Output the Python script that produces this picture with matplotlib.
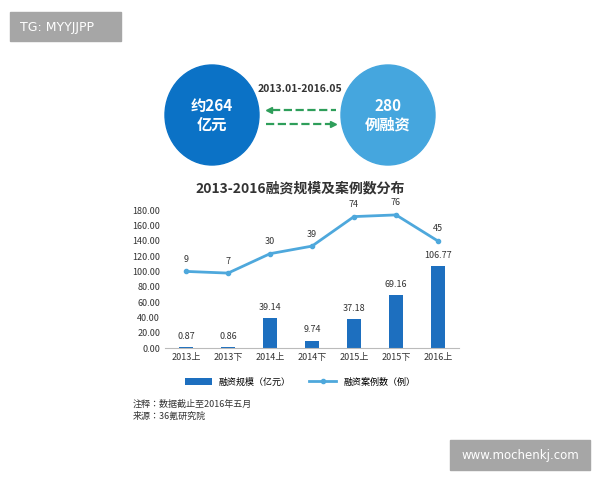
import matplotlib.pyplot as plt
from matplotlib import font_manager
from matplotlib.patches import Ellipse, Rectangle

names = sorted({f.name for f in font_manager.fontManager.ttflist if 'CJK' in f.name})
print(names)
cjk = names[0] if names else 'DejaVu Sans'
plt.rcParams['font.family'] = 'sans-serif'
plt.rcParams['font.sans-serif'] = [cjk, 'DejaVu Sans']

periods = ['2013上', '2013下', '2014上', '2014下', '2015上', '2015下', '2016上']
amounts = [0.87, 0.86, 39.14, 9.74, 37.18, 69.16, 106.77]
deals = [9, 7, 30, 39, 74, 76, 45]
yticks = [0, 20, 40, 60, 80, 100, 120, 140, 160, 180]

bar_c = '#1d6fbf'
line_c = '#4ea8dc'

fig = plt.figure(figsize=(6, 4.8), dpi=100)

# overlay in pixel coords
ov = fig.add_axes([0, 0, 1, 1])
ov.set_xlim(0, 600)
ov.set_ylim(480, 0)
ov.axis('off')
ov.add_patch(Rectangle((10, 12), 111, 29, color='#a6a6a6'))
ov.text(20, 27, 'TG: MYYJJPP', color='white', fontsize=9, va='center', family='DejaVu Sans')
ov.add_patch(Rectangle((450, 440), 140, 30, color='#a6a6a6'))
ov.text(520, 455, 'www.mochenkj.com', color='white', fontsize=8.5, va='center', ha='center', family='DejaVu Sans')
ov.add_patch(Ellipse((212, 115), 94, 100, color='#0b72c6'))
ov.add_patch(Ellipse((388, 115), 94, 100, color='#45a6de'))
ov.text(212, 115, '约264\n亿元', color='white', fontsize=11, fontweight='bold', ha='center', va='center', linespacing=1.2)
ov.text(388, 115, '280\n例融资', color='white', fontsize=11, fontweight='bold', ha='center', va='center', linespacing=1.2)
ov.text(300, 89, '2013.01-2016.05', fontsize=7.5, fontweight='bold', color='#333333', ha='center', va='center')
ov.plot([272, 336], [110, 110], ls='--', color='#2e9e5a', lw=1.6)
ov.plot([266, 330], [124, 124], ls='--', color='#2e9e5a', lw=1.6)
ov.plot([269], [110], marker='<', color='#2e9e5a', ms=4)
ov.plot([333], [124], marker='>', color='#2e9e5a', ms=4)
ov.text(300, 188, '2013-2016融资规模及案例数分布', fontsize=10, fontweight='bold', color='#333333', ha='center', va='center')
ov.text(133, 400, '注释：数据截止至2016年五月\n来源：36氪研究院', fontsize=6.5, color='#333333', va='top', linespacing=1.3)

ax = fig.add_axes([0.275, 0.275, 0.49, 0.2875])
x = range(len(periods))
ax.bar(x, amounts, width=0.32, color=bar_c, label='融资规模（亿元）')
for i, v in zip(x, amounts):
    ax.text(i, v + 8, f'{v:.2f}', ha='center', va='bottom', fontsize=6.5, color='#333333')
ax.set_ylim(0, 180)
ax.set_yticks(yticks)
ax.set_yticklabels([f'{t:.2f}' for t in yticks])
ax.set_xlim(-0.5, len(periods) - 0.5)
ax.set_xticks(list(x))
ax.set_xticklabels(periods)
ax.tick_params(labelsize=6.5, length=0, colors='#333333')
for s in ['top', 'right', 'left']:
    ax.spines[s].set_visible(False)
ax.spines['bottom'].set_color('#bbbbbb')

ax2 = ax.twinx()
ax2.set_ylim(-90 / 1.1, 90 / 1.1)
ax2.plot(x, deals, color=line_c, lw=2, marker='o', ms=3, label='融资案例数（例）')
for i, v in zip(x, deals):
    ax2.text(i, v + 9, str(v), ha='center', va='bottom', fontsize=6.5, color='#333333')
ax2.axis('off')

h1, l1 = ax.get_legend_handles_labels()
h2, l2 = ax2.get_legend_handles_labels()
fig.legend(h1 + h2, l1 + l2, loc='center', bbox_to_anchor=(0.5, 1 - 382 / 480), ncol=2,
           frameon=False, fontsize=6.5, handlelength=3, columnspacing=2)

fig.savefig('out.png', dpi=100)
